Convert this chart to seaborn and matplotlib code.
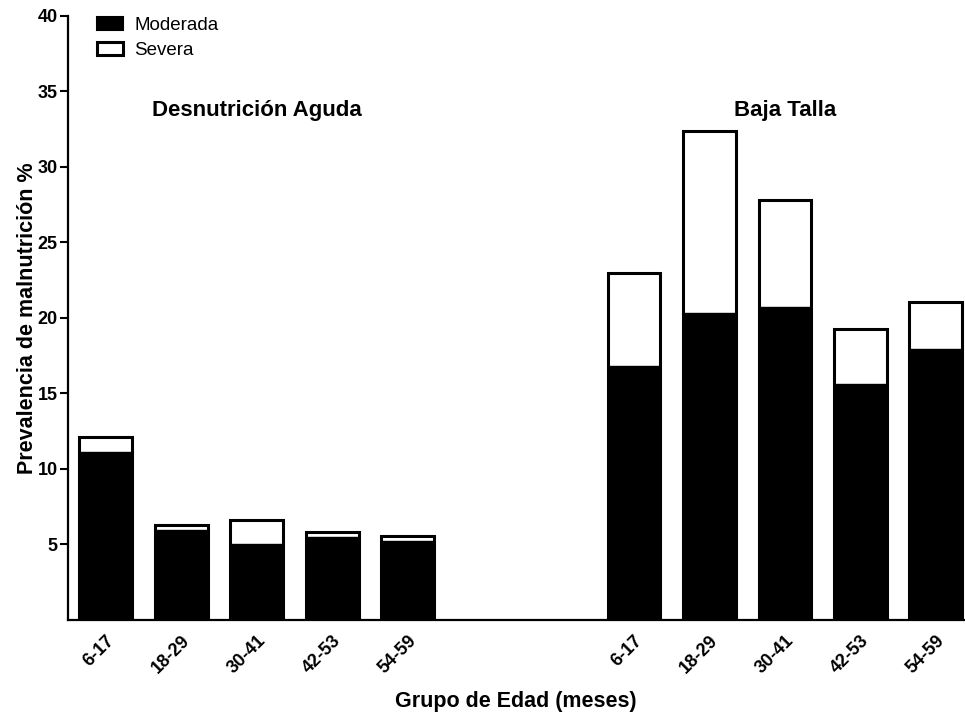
import pandas as pd
import matplotlib
matplotlib.use('Agg')
import matplotlib.pyplot as plt
import matplotlib.patches as mpatches
import seaborn as sns

# data
age_groups = ['6-17', '18-29', '30-41', '42-53', '54-59']
aguda_moderada = [11.1, 5.95, 5.0, 5.5, 5.25]
aguda_total = [12.1, 6.3, 6.6, 5.8, 5.55]
talla_moderada = [16.8, 20.35, 20.7, 15.6, 17.95]
talla_total = [22.95, 32.35, 27.8, 19.25, 21.05]
group_names = ['Desnutrición Aguda', 'Baja Talla']
legend_labels = ['Moderada', 'Severa']

sns.set_theme(style='ticks')
plt.rcParams['font.family'] = ['Liberation Sans', 'DejaVu Sans']
plt.rcParams['text.color'] = 'black'
plt.rcParams['axes.labelcolor'] = 'black'
plt.rcParams['axes.edgecolor'] = 'black'
plt.rcParams['xtick.color'] = 'black'
plt.rcParams['ytick.color'] = 'black'

# slots: first group 0..4, second group 7..11
df = pd.DataFrame({
    'pos': list(range(0, 5)) + list(range(7, 12)),
    'label': age_groups + age_groups,
    'moderada': aguda_moderada + talla_moderada,
    'total': aguda_total + talla_total,
})

fig, ax = plt.subplots(figsize=(9.65, 7.19), dpi=100)
fig.subplots_adjust(left=0.0705, right=0.9995, bottom=0.1377, top=0.978)

sns.barplot(data=df, x='pos', y='total', native_scale=True, width=0.7,
            color='white', edgecolor='black', linewidth=2.2, saturation=1,
            errorbar=None, ax=ax)
sns.barplot(data=df, x='pos', y='moderada', native_scale=True, width=0.7,
            color='black', edgecolor='black', linewidth=1.0, saturation=1,
            errorbar=None, ax=ax)

ax.set_ylim(0, 40)
ax.set_xlim(-0.5, 11.38)
ax.set_yticks([5, 10, 15, 20, 25, 30, 35, 40])
ax.set_xticks(df['pos'])
ax.set_xticklabels(df['label'], rotation=45, ha='right', rotation_mode='anchor',
                   fontsize=13, fontweight='bold')
for t in ax.get_yticklabels():
    t.set_fontweight('bold')
    t.set_fontsize(13)
ax.tick_params(axis='x', length=0, pad=9)
ax.tick_params(axis='y', length=6, width=1.5, pad=1.5)
sns.despine(ax=ax)
for s in ['left', 'bottom']:
    ax.spines[s].set_linewidth(1.6)

ax.set_xlabel('Grupo de Edad (meses)', fontsize=15.5, fontweight='bold', labelpad=10)
ax.set_ylabel('Prevalencia de malnutrición %', fontsize=15.5, fontweight='bold')
ax.yaxis.set_label_coords(-0.034, 0.5)

ax.text(2, 33.7, group_names[0], ha='center', va='center', fontsize=16, fontweight='bold')
ax.text(9, 33.7, group_names[1], ha='center', va='center', fontsize=16, fontweight='bold')

handles = [mpatches.Patch(facecolor='black', edgecolor='black', linewidth=1.5),
           mpatches.Patch(facecolor='white', edgecolor='black', linewidth=2.2)]
fig.legend(handles, legend_labels, loc='upper left', bbox_to_anchor=(0.083, 1.0),
           frameon=False, fontsize=13.5, handlelength=1.4, handleheight=0.65,
           handletextpad=0.6, labelspacing=0.45)

plt.savefig('out.png', dpi=100)
